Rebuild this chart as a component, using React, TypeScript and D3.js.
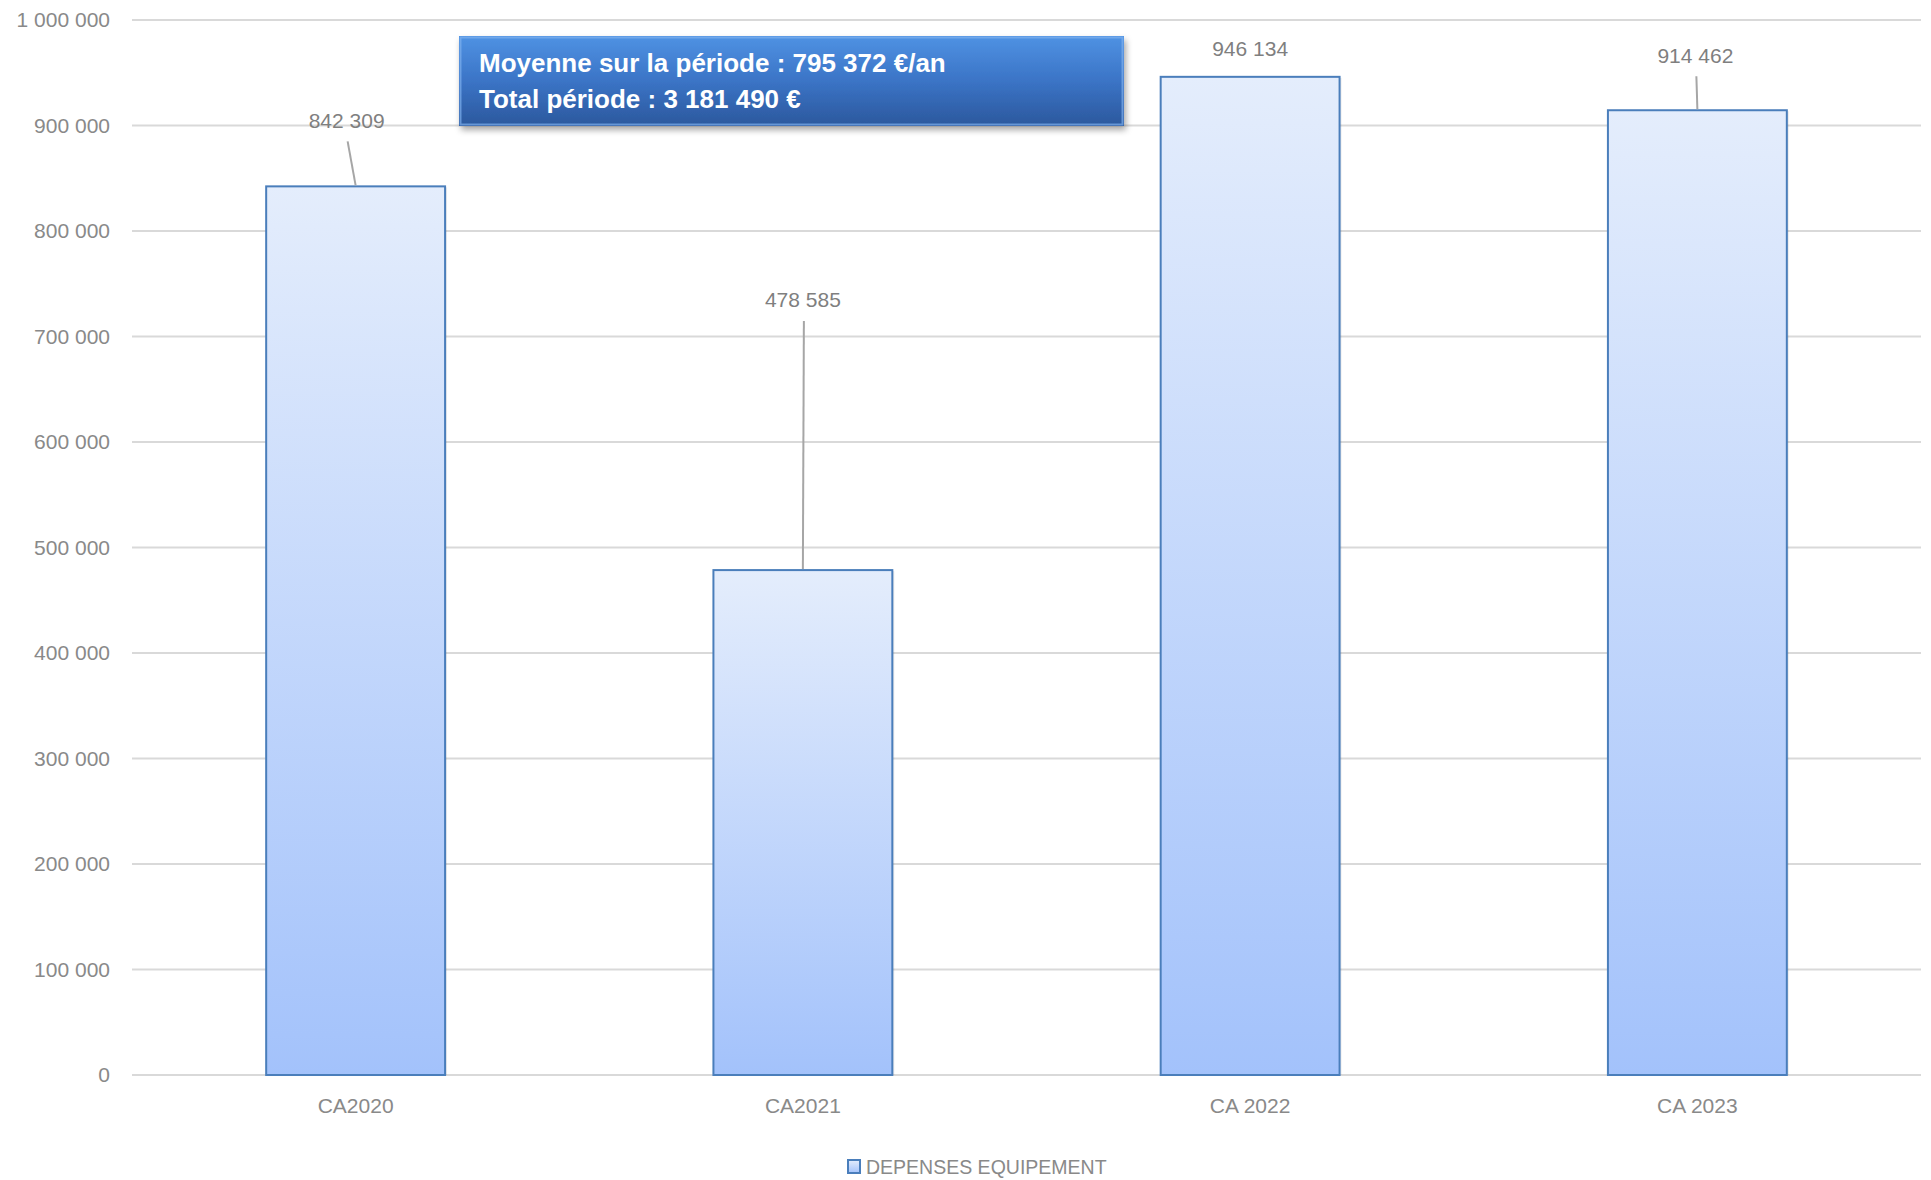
import React, { useEffect, useRef } from 'react';
import * as d3 from 'd3';

// Données
const categories = ['CA2020', 'CA2021', 'CA 2022', 'CA 2023'];
const depenses = [842309, 478585, 946134, 914462];
const yTicks = [0, 100000, 200000, 300000, 400000, 500000, 600000, 700000, 800000, 900000, 1000000];
const serieName = 'DEPENSES EQUIPEMENT';
const boxLines = ['Moyenne sur la période : 795 372 €/an', 'Total période : 3 181 490 €'];

// Décalage manuel des étiquettes (comme dans le classeur d'origine)
const labelLift = [66, 270, 28, 55];
const labelShift = [-9, 0, 0, -2];

const W = 1931;
const H = 1180;
const FONT = '"Liberation Sans", Arial, sans-serif';

const fmt = (v: number) => d3.format(',')(v).replace(/,/g, ' ');

export default function App() {
  const svgRef = useRef<SVGSVGElement>(null);

  useEffect(() => {
    document.body.style.margin = '0';
    if (!svgRef.current) return;
    const svg = d3.select(svgRef.current);
    svg.selectAll('*').remove();

    const margin = { top: 20, right: 10, bottom: 105, left: 132 };
    const x = d3.scaleBand<string>()
      .domain(categories)
      .range([margin.left, W - margin.right])
      .paddingInner(0.6)
      .paddingOuter(0.3);
    const y = d3.scaleLinear()
      .domain([0, 1000000])
      .range([H - margin.bottom, margin.top]);

    const defs = svg.append('defs');
    const barGrad = defs.append('linearGradient')
      .attr('id', 'barGrad').attr('x1', 0).attr('y1', 0).attr('x2', 0).attr('y2', 1);
    barGrad.append('stop').attr('offset', '0%').attr('stop-color', '#e4edfc');
    barGrad.append('stop').attr('offset', '100%').attr('stop-color', '#a3c2fb');

    const boxGrad = defs.append('linearGradient')
      .attr('id', 'boxGrad').attr('x1', 0).attr('y1', 0).attr('x2', 0).attr('y2', 1);
    boxGrad.append('stop').attr('offset', '0%').attr('stop-color', '#4f92e3');
    boxGrad.append('stop').attr('offset', '50%').attr('stop-color', '#3b74c6');
    boxGrad.append('stop').attr('offset', '100%').attr('stop-color', '#2b589d');

    const shadow = defs.append('filter').attr('id', 'shadow')
      .attr('x', '-5%').attr('y', '-20%').attr('width', '110%').attr('height', '150%');
    shadow.append('feDropShadow')
      .attr('dx', 2).attr('dy', 4).attr('stdDeviation', 3)
      .attr('flood-color', '#000').attr('flood-opacity', 0.35);

    // Grille + axe Y
    svg.append('g')
      .selectAll('line')
      .data(yTicks)
      .join('line')
      .attr('x1', margin.left).attr('x2', W - margin.right)
      .attr('y1', d => y(d)).attr('y2', d => y(d))
      .attr('stroke', '#d9d9d9').attr('stroke-width', 2);

    svg.append('g')
      .selectAll('text')
      .data(yTicks)
      .join('text')
      .attr('x', 110).attr('y', d => y(d))
      .attr('dy', '0.35em')
      .attr('text-anchor', 'end')
      .attr('font-family', FONT).attr('font-size', 21)
      .attr('fill', '#898989')
      .text(d => fmt(d));

    // Barres
    const bars = svg.append('g');
    bars.selectAll('rect.shadow')
      .data(depenses)
      .join('rect')
      .attr('class', 'shadow')
      .attr('x', (_, i) => x(categories[i])! + 2)
      .attr('y', d => y(d) + 1)
      .attr('width', x.bandwidth())
      .attr('height', d => y(0) - y(d) - 1)
      .attr('fill', '#000').attr('opacity', 0.08);
    bars.selectAll('rect.bar')
      .data(depenses)
      .join('rect')
      .attr('class', 'bar')
      .attr('x', (_, i) => x(categories[i])!)
      .attr('y', d => y(d))
      .attr('width', x.bandwidth())
      .attr('height', d => y(0) - y(d))
      .attr('fill', 'url(#barGrad)')
      .attr('stroke', '#4a7ebb').attr('stroke-width', 2);

    // Étiquettes de données + lignes de rappel
    const lbl = svg.append('g');
    depenses.forEach((v, i) => {
      const cx = x(categories[i])! + x.bandwidth() / 2;
      const lx = cx + labelShift[i];
      const ly = y(v) - labelLift[i];
      if (labelLift[i] > 40) {
        lbl.append('line')
          .attr('x1', lx + 1).attr('y1', ly + 21)
          .attr('x2', cx).attr('y2', y(v) - 1)
          .attr('stroke', '#a6a6a6').attr('stroke-width', 2);
      }
      lbl.append('text')
        .attr('x', lx).attr('y', ly)
        .attr('dy', '0.35em')
        .attr('text-anchor', 'middle')
        .attr('font-family', FONT).attr('font-size', 21)
        .attr('fill', '#7f7f7f')
        .text(fmt(v));
    });

    // Axe X
    svg.append('g')
      .selectAll('text')
      .data(categories)
      .join('text')
      .attr('x', d => x(d)! + x.bandwidth() / 2)
      .attr('y', 1106)
      .attr('dy', '0.35em')
      .attr('text-anchor', 'middle')
      .attr('font-family', FONT).attr('font-size', 21)
      .attr('fill', '#898989')
      .text(d => d);

    // Encadré moyenne / total
    const box = svg.append('g');
    box.append('rect')
      .attr('x', 459).attr('y', 36).attr('width', 665).attr('height', 90)
      .attr('fill', 'url(#boxGrad)')
      .attr('filter', 'url(#shadow)');
    box.append('rect')
      .attr('x', 460.5).attr('y', 37.5).attr('width', 662).attr('height', 87)
      .attr('fill', 'none')
      .attr('stroke', '#7fb0ee').attr('stroke-width', 2).attr('opacity', 0.7);
    box.selectAll('text')
      .data(boxLines)
      .join('text')
      .attr('x', 479)
      .attr('y', (_, i) => 63 + i * 36)
      .attr('dy', '0.35em')
      .attr('font-family', FONT).attr('font-size', 26).attr('font-weight', 'bold')
      .attr('fill', '#ffffff')
      .text(d => d);

    // Légende
    const leg = svg.append('g');
    leg.append('rect')
      .attr('x', 848).attr('y', 1160).attr('width', 12).attr('height', 13)
      .attr('fill', 'url(#barGrad)')
      .attr('stroke', '#4a7ebb').attr('stroke-width', 2);
    leg.append('text')
      .attr('x', 866).attr('y', 1167)
      .attr('dy', '0.35em')
      .attr('font-family', FONT).attr('font-size', 19.5)
      .attr('fill', '#898989')
      .text(serieName);
  }, []);

  return <svg ref={svgRef} width={W} height={H} style={{ display: 'block', background: '#fff' }} />;
}
